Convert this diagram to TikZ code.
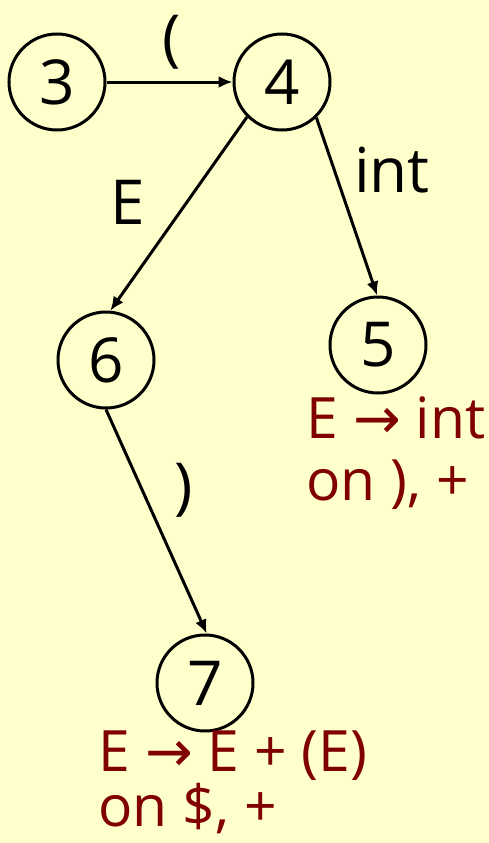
\documentclass[tikz,border=0pt]{standalone}
\usepackage{fontspec}
\setmainfont{Open Sans}
\newfontfamily\arrowfont{DejaVu Sans}
\usetikzlibrary{arrows.meta}
\definecolor{bg}{HTML}{FFFFCC}
\definecolor{dred}{HTML}{800000}
\begin{document}
\begin{tikzpicture}[x=1pt,y=-1pt,
  state/.style={draw,circle,line width=3pt,minimum size=96pt,inner sep=0pt,font=\fontsize{62}{70}\selectfont},
  edge/.style={line width=3pt,-{Latex[length=14pt,width=12pt]}},
  lbl/.style={font=\fontsize{62}{70}\selectfont},
  note/.style={text=dred,anchor=base west,font=\fontsize{57}{64}\selectfont}]
\fill[bg] (0,0) rectangle (489,843);
\useasboundingbox (0,0) rectangle (489,843);
\node[state] (s3) at (57,82) {3};
\node[state] (s4) at (282,82) {4};
\node[state] (s6) at (106,360) {6};
\node[state] (s5) at (378,345) {5};
\node[state] (s7) at (205,683) {7};
\draw[edge] (s3) -- (s4);
\draw[edge] (s4.225) -- (s6.85);
\draw[edge] (s4.-46) -- (s5.91);
\draw[edge] (s6.south) -- (s7.88);
\node[lbl] (l1) at (172,42) {(};
\node[lbl] (l2) at (128,202) {E};
\node[lbl] (l3) at (392,170) {int};
\node[lbl] (l4) at (184,490) {)};
\node[note] (n5a) at (303,438) {E {\arrowfont →} int};
\node[note] (n5b) at (303,500) {on ), +};
\node[note] (n7a) at (95,771) {E {\arrowfont →} E + (E)};
\node[note] (n7b) at (95,826) {on \$, +};
\end{tikzpicture}
\end{document}
